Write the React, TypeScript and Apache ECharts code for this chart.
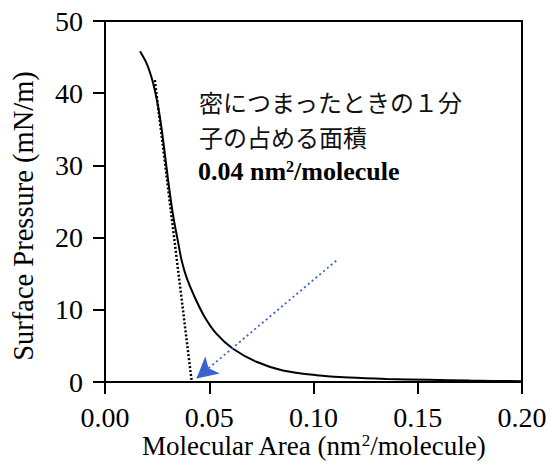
import React, { useEffect, useRef } from "react";
import * as echarts from "echarts";

const areaValues = [0.0168, 0.02, 0.0223, 0.0239, 0.0255, 0.0271, 0.0287, 0.0303, 0.0327, 0.0351, 0.0367, 0.0391, 0.0431, 0.0478, 0.0534, 0.0614, 0.0726, 0.0853, 0.1013, 0.117, 0.135, 0.155, 0.175, 0.2];
const pressureValues = [45.8, 44.1, 42.2, 40.4, 38.1, 35.2, 31.6, 27.9, 23.0, 19.3, 16.9, 14.5, 11.7, 9.0, 6.7, 4.6, 2.8, 1.6, 0.95, 0.62, 0.42, 0.3, 0.2, 0.1];
const tangentArea = [0.0239, 0.0415];
const tangentPressure = [41.8, 0.3];
const arrowFrom = [0.1109, 16.8];
const arrowTo = [0.0439, 0.5];
const noteLines = ["密につまったときの１分", "子の占める面積"];
const noteValue = "0.04 nm";
const noteUnit = "/molecule";
const xTitle = ["Molecular Area (nm", "2", "/molecule)"];
const yTitle = "Surface Pressure (mN/m)";

const SERIF = "'Liberation Serif', 'Times New Roman', serif";

export default function App() {
  const ref = useRef<HTMLDivElement>(null);
  useEffect(() => {
    if (!ref.current) return;
    const chart = echarts.init(ref.current, null, { renderer: "svg" });
    const axisCommon = {
      axisLine: { show: true, onZero: false, lineStyle: { color: "#000", width: 2 } },
      axisTick: { show: true, length: 12, lineStyle: { color: "#000", width: 2 } },
      splitLine: { show: false },
    };
    chart.setOption({
      animation: false,
      backgroundColor: "#fff",
      grid: {
        left: 105,
        right: 28,
        top: 21,
        bottom: 82,
        outerBoundsMode: "none",
        show: true,
        borderColor: "#000",
        borderWidth: 2,
      },
      xAxis: {
        type: "value",
        min: 0,
        max: 0.2,
        interval: 0.05,
        ...axisCommon,
        axisLabel: {
          color: "#000",
          fontFamily: SERIF,
          fontSize: 28,
          margin: 21,
          formatter: (v: number) => v.toFixed(2),
        },
        name: `{n|${xTitle[0]}}{s|${xTitle[1]}}{n|${xTitle[2]}}`,
        nameLocation: "middle",
        nameGap: 50,
        nameMoveOverlap: false,
        nameTextStyle: {
          rich: {
            n: { fontFamily: SERIF, fontSize: 27, color: "#000" },
            s: { fontFamily: SERIF, fontSize: 17, color: "#000", verticalAlign: "top" },
          },
        },
      },
      yAxis: {
        type: "value",
        min: 0,
        max: 50,
        interval: 10,
        ...axisCommon,
        axisLabel: { color: "#000", fontFamily: SERIF, fontSize: 28, margin: 22 },
      },
      graphic: [
        {
          type: "text",
          x: 23,
          y: 216,
          rotation: Math.PI / 2,
          style: {
            text: yTitle,
            font: `28.5px ${SERIF}`,
            fill: "#000",
            align: "center",
            verticalAlign: "middle",
          },
        },
        {
          type: "text",
          x: 199,
          y: 101,
          style: {
            text: noteLines[0],
            font: "24px 'Noto Sans CJK JP'",
            fill: "#111",
            verticalAlign: "middle",
          },
        },
        {
          type: "text",
          x: 199,
          y: 136,
          style: {
            text: noteLines[1],
            font: "24px 'Noto Sans CJK JP'",
            fill: "#111",
            verticalAlign: "middle",
          },
        },
        {
          type: "text",
          x: 198,
          y: 171,
          style: {
            text: `{b|${noteValue}}{s|2}{b|${noteUnit}}`,
            verticalAlign: "middle",
            rich: {
              b: { fontFamily: SERIF, fontWeight: "bold", fontSize: 26, fill: "#000" },
              s: { fontFamily: SERIF, fontWeight: "bold", fontSize: 16, fill: "#000", verticalAlign: "top" },
            },
          },
        },
      ],
      series: [
        {
          type: "line",
          data: areaValues.map((a, i) => [a, pressureValues[i]]),
          smooth: 0.3,
          showSymbol: false,
          lineStyle: { color: "#000", width: 2 },
          z: 3,
        },
        {
          type: "line",
          data: tangentArea.map((a, i) => [a, tangentPressure[i]]),
          showSymbol: false,
          lineStyle: { color: "#000", width: 2.5, type: [2, 2] },
          z: 4,
          markLine: {
            silent: true,
            symbol: ["none", "arrow"],
            symbolSize: [17, 21],
            label: { show: false },
            lineStyle: { color: "#3a62cc", width: 1.8, type: [2, 3] },
            data: [[{ coord: arrowFrom }, { coord: arrowTo }]],
          },
        },
      ],
    });
    return () => chart.dispose();
  }, []);
  return <div ref={ref} style={{ width: 550, height: 464, position: "absolute", left: 0, top: 0 }} />;
}
